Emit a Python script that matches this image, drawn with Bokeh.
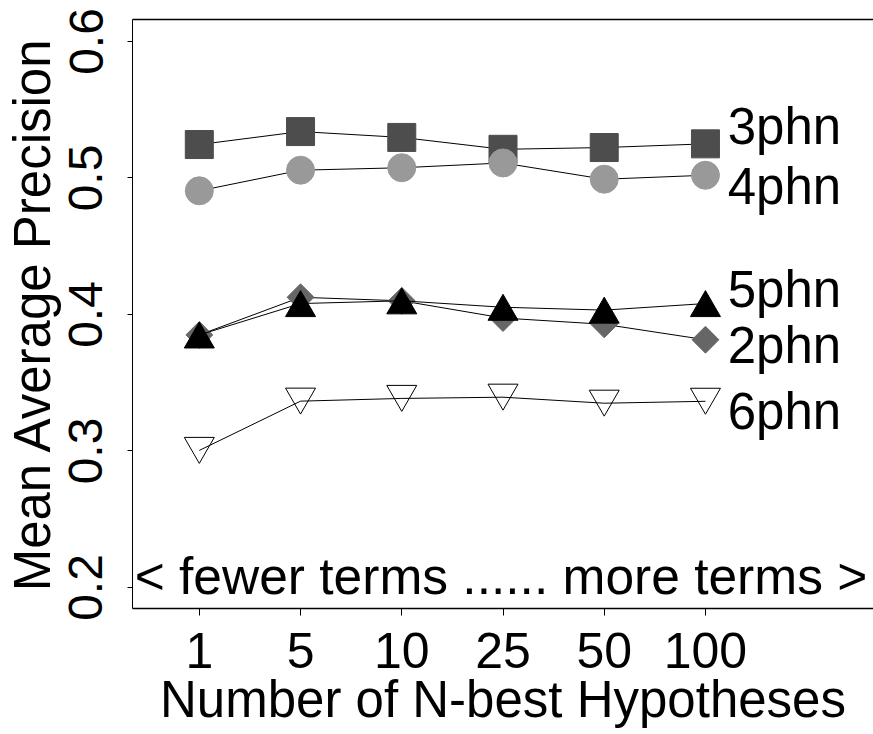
from bokeh.plotting import figure
from bokeh.models import Range1d, FixedTicker, LinearAxis, ColumnDataSource
from bokeh.transform import dodge
from bokeh.core.properties import value
from bokeh.embed import file_html
from bokeh.resources import INLINE

# ---- data ----
x_pos = [1, 2, 3, 4, 5, 6]
x_labels = ["1", "5", "10", "25", "50", "100"]
y_ticks = [0.2, 0.3, 0.4, 0.5, 0.6]
y_tick_labels = ["0.2", "0.3", "0.4", "0.5", "0.6"]

map_2phn = [0.385, 0.4126, 0.410, 0.3974, 0.3928, 0.3815]
map_3phn = [0.5245, 0.534, 0.5297, 0.521, 0.5223, 0.525]
map_4phn = [0.4906, 0.5057, 0.5075, 0.511, 0.4991, 0.502]
map_5phn = [0.385, 0.408, 0.410, 0.4053, 0.4032, 0.408]
map_6phn = [0.3004, 0.3365, 0.3385, 0.3394, 0.335, 0.3364]

series_names = ["3phn", "4phn", "5phn", "2phn", "6phn"]
series_label_x = [6.22, 6.22, 6.22, 6.22, 6.22]
series_label_y = [0.5253, 0.4813, 0.4059, 0.3648, 0.3165]

note_text = ["< fewer terms ...... more terms >"]
note_x = [3.98]
note_y = [0.1973]

FONT = "Liberation Sans"

p = figure(width=873, height=734, output_backend="svg", toolbar_location=None,
           x_range=Range1d(0.34, 7.66), y_range=Range1d(0.1846, 0.6161),
           x_axis_location=None, y_axis_location=None,
           min_border_left=128, min_border_right=0, min_border_top=19,
           min_border_bottom=126)
p.grid.visible = False
p.outline_line_color = None
p.background_fill_color = "white"
p.border_fill_color = "white"

# left axis
yax = LinearAxis(ticker=FixedTicker(ticks=y_ticks),
                 major_label_overrides={t: l for t, l in zip(y_ticks, y_tick_labels)},
                 axis_label="Mean Average Precision")
yax.major_label_orientation = "vertical"
yax.major_label_text_font = FONT
yax.major_label_text_font_size = "48px"
yax.major_label_text_color = "black"
yax.major_label_standoff = 25
yax.axis_label_text_font = FONT
yax.axis_label_text_font_size = "51px"
yax.axis_label_text_font_style = "normal"
yax.axis_label_text_color = "black"
yax.axis_label_standoff = 6
yax.major_tick_out = 5
yax.major_tick_in = 0
yax.minor_tick_out = 0
yax.minor_tick_in = 0
yax.axis_line_color = "black"
yax.axis_line_width = 1
yax.major_tick_line_color = "black"
p.add_layout(yax, "left")

# bottom axis
xax = LinearAxis(ticker=FixedTicker(ticks=x_pos),
                 major_label_overrides={t: l for t, l in zip(x_pos, x_labels)},
                 axis_label="Number of N-best Hypotheses")
xax.major_label_text_font = FONT
xax.major_label_text_font_size = "50px"
xax.major_label_text_color = "black"
xax.major_label_standoff = 17
xax.axis_label_text_font = FONT
xax.axis_label_text_font_size = "51px"
xax.axis_label_text_font_style = "normal"
xax.axis_label_text_color = "black"
xax.axis_label_standoff = 0
xax.major_tick_out = 7
xax.major_tick_in = 0
xax.minor_tick_out = 0
xax.minor_tick_in = 0
xax.axis_line_color = "black"
xax.axis_line_width = 1.5
xax.major_tick_line_color = "black"
p.add_layout(xax, "below")

# top border as a bare axis line
tax = LinearAxis(ticker=FixedTicker(ticks=[]))
tax.major_tick_out = 0
tax.major_tick_in = 0
tax.minor_tick_out = 0
tax.minor_tick_in = 0
tax.major_label_standoff = 0
tax.major_label_text_font_size = "0px"
tax.axis_line_color = "black"
tax.axis_line_width = 1.5
p.add_layout(tax, "above")

TRI_OFF = 0.0032  # triangles are centred on their bounding box in the original

def series(vals, marker, fill, size, line_color=None, dy=0.0, fill_alpha=1.0, angle=0.0):
    src = ColumnDataSource(dict(x=x_pos, y=vals))
    p.line("x", "y", source=src, line_color="black", line_width=1)
    p.scatter("x", dodge("y", dy, range=p.y_range), source=src, marker=marker, size=size,
              fill_color=fill, fill_alpha=fill_alpha,
              line_color=line_color if line_color else fill, line_width=1, angle=angle)

series(map_2phn, "square", "#666666", 19, angle=0.785398)
series(map_3phn, "square", "#4D4D4D", 28)
series(map_4phn, "circle", "#999999", 28)
series(map_5phn, "triangle", "black", 30, dy=-TRI_OFF)
series(map_6phn, "inverted_triangle", "white", 30, line_color="black", dy=TRI_OFF, fill_alpha=0.0)

lab_src = ColumnDataSource(dict(x=series_label_x, y=series_label_y, t=series_names))
p.text("x", "y", text="t", source=lab_src, text_font=value(FONT), text_font_size=value("51px"),
       text_align="left", text_baseline="alphabetic", text_color="black", y_offset=-17)

note_src = ColumnDataSource(dict(x=note_x, y=note_y, t=note_text))
p.text("x", "y", text="t", source=note_src, text_font=value(FONT), text_font_size=value("51.5px"),
       text_align="center", text_baseline="alphabetic", text_color="black", y_offset=-15)

open("out.html", "w").write(file_html(p, INLINE))
